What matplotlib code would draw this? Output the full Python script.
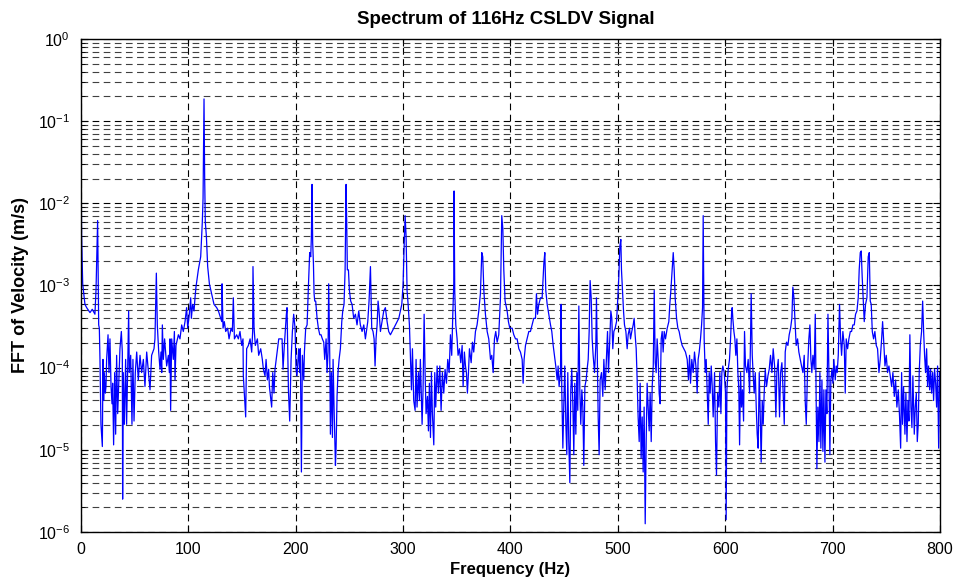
import numpy as np
import matplotlib
matplotlib.use('Agg')
import matplotlib.pyplot as plt
from matplotlib.ticker import LogLocator, MultipleLocator, NullFormatter

plt.rcParams['font.family'] = ['Liberation Sans', 'DejaVu Sans']
plt.rcParams['mathtext.fontset'] = 'custom'
plt.rcParams['mathtext.rm'] = 'Liberation Sans'

# spectrum: frequency (Hz) and log10 of |FFT| (m/s)
freq_a = [0, 0.6, 1.6, 3.7, 5.3, 8.4, 10.5, 13.0, 14.0, 15.5,
          16.5, 17.1, 17.7, 18.6, 19.9, 20.5, 21.1, 21.7, 22.7, 23.3,
          23.9, 25.2, 26.1, 27.0, 28.0, 28.9, 29.5, 30.4, 31.4, 32.3,
          33.2, 34.2, 36.3, 37.6, 38.5, 38.8, 39.4, 40.4, 41.6, 42.5,
          43.5, 44.4, 45.0, 46.3, 47.5, 48.4, 49.4, 50.6, 51.9, 53.4,
          55.0, 56.5, 58.1, 59.6, 61.2, 64.3, 65.8, 68.0, 68.9, 70.2,
          71.1, 72.4, 73.6, 74.5, 75.2, 75.8, 76.7, 77.9, 79.8, 81.4,
          82.3, 82.9, 83.5, 84.5, 86.0, 87.0, 87.6, 88.5, 90.7, 92.2,
          93.8, 95.3, 96.9, 98.4, 99.4, 100.9, 102.2, 102.8, 104.0, 105.3,
          106.2, 107.1, 109.3, 111.5, 113.0, 113.7, 114.6, 115.2, 115.8, 116.8,
          118.0, 119.6, 121.7, 123.9, 126.4, 128.0, 131.1, 131.4, 132.3, 133.5,
          134.8, 136.6, 137.9, 139.8, 141.0, 141.9, 142.9, 145.0, 146.6, 148.1,
          149.7, 150.9, 151.2, 153.4, 154.3, 155.9, 157.5, 159.0, 159.9, 160.2,
          161.2, 162.4, 164.3, 165.5, 167.4, 168.9, 169.9, 171.4, 172.4, 173.6,
          174.8, 175.5, 177.6, 178.6, 179.8, 180.7, 182.3, 184.2]
lvl_a = [-1.40, -2.40, -2.98, -3.23, -3.27, -3.33, -3.29, -3.35, -3.06, -2.21,
         -3.48, -3.52, -3.90, -4.69, -4.96, -3.90, -4.40, -4.06, -4.31, -4.23,
         -3.90, -3.60, -4.06, -3.65, -4.23, -4.44, -4.19, -4.94, -4.06, -4.81,
         -3.85, -4.56, -3.77, -3.56, -3.81, -5.60, -4.06, -4.69, -3.90, -4.69,
         -4.02, -3.31, -4.06, -3.85, -4.69, -3.90, -4.65, -4.06, -3.81, -4.15,
         -3.85, -4.06, -3.90, -4.23, -3.81, -4.27, -3.85, -3.77, -3.65, -2.85,
         -3.48, -3.81, -4.02, -3.81, -4.06, -3.48, -3.90, -3.65, -3.98, -3.85,
         -4.06, -3.65, -4.52, -3.65, -3.90, -3.56, -4.15, -3.73, -3.60, -3.65,
         -3.48, -3.56, -3.44, -3.27, -3.52, -3.35, -3.15, -3.40, -3.23, -3.31,
         -3.15, -3.02, -2.81, -2.65, -2.23, -1.94, -0.73, -1.69, -2.23, -2.40,
         -2.77, -2.98, -3.10, -3.23, -3.27, -3.31, -3.44, -2.98, -3.52, -3.44,
         -3.56, -3.52, -3.65, -3.52, -3.56, -3.15, -3.65, -3.60, -3.65, -3.56,
         -3.73, -3.65, -4.10, -4.60, -3.77, -3.73, -3.65, -3.81, -3.56, -2.77,
         -3.52, -3.73, -3.65, -3.85, -3.77, -3.90, -4.02, -4.10, -3.90, -4.15,
         -4.02, -4.23, -4.48, -4.06, -4.31, -4.02, -3.85, -3.65]

freq_b = [187.3, 188.2, 189.4, 191.3, 191.9, 193.2, 194.4, 195.7, 196.9, 198.1,
          199.4, 200.3, 201.2, 202.8, 203.7, 204.3, 205.3, 206.2, 207.5, 208.1,
          209.3, 210.6, 211.8, 213.0, 214.0, 214.6, 215.2, 215.8, 216.5, 217.1,
          217.7, 218.6, 219.9, 221.1, 222.4, 223.6, 224.8, 226.1, 227.0, 228.3,
          229.2, 230.1, 230.7, 231.7, 232.3, 233.2, 234.2, 234.8, 235.7, 237.0,
          237.6, 238.5, 239.4, 240.4, 241.6, 242.9, 243.8, 245.0, 246.0, 246.9,
          247.5, 248.1, 249.1, 250.0, 251.2, 252.5, 254.0, 255.6, 257.1, 258.7,
          260.2, 261.8, 263.4, 264.9, 265.8, 267.1, 268.3, 269.6, 270.8, 272.0,
          273.0, 273.9, 274.8, 275.8, 276.7, 277.6, 278.9, 280.4, 282.0, 283.5,
          285.1, 286.6, 288.2, 289.8, 291.3, 292.9, 294.4, 296.0, 297.5, 298.8,
          300.0, 300.9, 301.9, 302.8, 303.7, 304.7, 305.9, 306.8, 307.8, 308.7,
          309.9, 311.2, 312.1, 313.0, 314.3, 315.2, 316.1, 317.7, 318.6, 319.6,
          320.5, 321.4, 322.7, 323.6, 324.5, 325.5, 326.4, 327.3, 328.6, 329.5,
          330.4, 331.7, 332.9, 334.2, 335.4, 336.6, 337.9, 339.1, 340.4, 341.6,
          342.9, 344.1, 345.3, 346.3, 347.2, 347.5, 348.1, 349.1, 350.3, 351.2,
          352.5, 353.7, 355.0, 355.9, 357.1, 358.1, 359.0, 359.9, 360.9, 361.8,
          363.4, 364.6, 365.8, 367.4, 368.9, 370.5, 372.0, 373.3, 374.2, 375.2,
          376.7, 378.3, 379.8, 381.4, 382.6, 383.9, 385.1, 386.3, 387.6, 389.1,
          390.7, 391.9, 392.9, 393.8, 395.0, 396.9, 398.1, 399.4]
lvl_b = [-3.65, -4.02, -3.73, -3.35, -3.27, -4.27, -4.65, -3.90, -3.56, -3.35,
         -3.52, -4.02, -4.10, -3.77, -4.06, -3.77, -5.27, -3.85, -4.15, -3.81,
         -3.52, -3.48, -3.02, -2.60, -2.65, -2.40, -1.77, -2.48, -2.73, -3.10,
         -3.19, -3.19, -3.40, -3.52, -3.60, -3.60, -3.65, -3.69, -3.90, -3.65,
         -4.06, -3.81, -2.98, -3.85, -4.81, -4.06, -4.85, -3.90, -4.48, -5.19,
         -4.98, -4.35, -4.06, -3.90, -3.77, -3.44, -3.31, -3.23, -2.81, -1.77,
         -2.23, -2.81, -2.81, -3.06, -3.19, -3.23, -3.40, -3.35, -3.48, -3.31,
         -3.48, -3.56, -3.48, -3.65, -3.56, -3.44, -3.19, -2.77, -3.52, -3.56,
         -3.65, -3.98, -3.65, -3.48, -3.19, -3.31, -3.56, -3.44, -3.31, -3.27,
         -3.44, -3.56, -3.60, -3.56, -3.52, -3.48, -3.44, -3.40, -3.31, -3.23,
         -2.98, -2.56, -2.15, -2.40, -3.06, -3.23, -3.48, -3.85, -4.27, -3.77,
         -4.40, -4.52, -3.90, -4.48, -4.06, -4.40, -3.90, -4.69, -4.27, -3.35,
         -4.06, -4.56, -4.35, -4.77, -4.19, -4.85, -4.06, -4.56, -4.94, -4.06,
         -4.48, -3.98, -4.31, -3.98, -4.52, -4.06, -4.31, -4.02, -4.19, -3.90,
         -4.06, -3.60, -3.85, -3.35, -2.98, -1.85, -3.06, -3.48, -3.65, -3.85,
         -3.77, -3.94, -3.73, -4.23, -3.81, -3.98, -4.06, -4.31, -4.06, -3.77,
         -3.94, -3.69, -3.81, -3.56, -3.48, -3.31, -3.10, -2.60, -2.65, -3.06,
         -3.35, -3.56, -3.65, -3.90, -3.85, -4.06, -3.65, -3.56, -3.69, -3.60,
         -3.15, -2.15, -2.31, -2.81, -3.19, -3.31, -3.44, -3.52]

freq_c = [401.6, 403.1, 404.7, 406.2, 407.8, 409.3, 410.9, 411.8, 412.7, 414.0,
          415.5, 417.1, 418.6, 420.2, 421.7, 423.3, 424.2, 425.2, 426.4, 428.0,
          429.5, 431.1, 432.0, 432.9, 434.2, 435.7, 437.3, 438.5, 439.8, 441.0,
          442.2, 443.5, 444.4, 445.3, 446.6, 447.2, 447.8, 448.8, 449.7, 450.6,
          451.6, 452.5, 453.4, 454.3, 455.3, 456.2, 457.1, 458.1, 459.0, 459.9,
          460.9, 461.8, 462.7, 463.7, 464.6, 465.5, 466.5, 467.4, 468.3, 469.3,
          470.5, 471.4, 472.4, 473.3, 474.2, 475.2, 476.1, 477.0, 478.3, 479.5,
          480.1, 481.1, 481.7, 482.6, 483.5, 484.8, 486.0, 487.0, 488.2, 489.4,
          490.4, 491.3, 492.5, 493.5, 494.4, 495.3, 496.3, 497.5, 498.8, 500.0,
          500.9, 501.9, 502.8, 503.4, 504.3, 505.3, 506.2, 507.5, 508.7, 509.6,
          510.9, 511.8, 513.0, 514.3, 515.2, 516.1, 517.1, 518.0, 518.9, 519.9,
          520.8, 521.7, 522.7, 523.6, 524.5, 525.5, 526.4, 527.3, 528.3, 529.2,
          530.1, 531.1, 532.0, 533.0, 533.9, 534.8, 535.7, 536.6, 537.6, 538.5,
          539.4, 540.4, 541.3, 542.2, 543.2, 544.4, 546.0, 547.5, 548.4, 549.4,
          550.6, 551.6, 552.5, 553.4, 554.7, 555.9, 557.1, 558.4, 559.9, 561.5,
          563.0, 564.6, 565.8, 566.8, 567.7, 568.9, 570.2, 571.4, 572.7, 573.9,
          574.8, 575.8, 577.0, 578.0, 578.9, 579.5, 580.4, 581.4, 582.3, 583.2,
          584.2, 585.1, 586.0, 587.0, 587.9, 588.8, 590.1, 591.0, 591.9, 592.9,
          594.1, 595.0]
lvl_c = [-3.52, -3.60, -3.65, -3.65, -3.77, -3.81, -3.90, -4.19, -3.90, -3.73,
         -3.65, -3.56, -3.56, -3.48, -3.40, -3.40, -3.10, -3.35, -3.23, -3.15,
         -3.15, -2.73, -2.60, -3.06, -3.23, -3.35, -3.48, -3.56, -3.73, -3.85,
         -3.98, -4.15, -3.98, -4.23, -4.06, -3.23, -4.27, -4.98, -4.44, -3.98,
         -4.69, -5.06, -4.06, -4.90, -5.40, -4.27, -4.02, -4.44, -5.06, -4.19,
         -4.81, -4.06, -4.52, -3.25, -4.27, -4.69, -4.27, -4.48, -5.19, -4.23,
         -4.15, -4.02, -3.90, -3.56, -2.94, -3.15, -3.65, -3.85, -4.06, -3.73,
         -3.15, -4.06, -4.60, -5.06, -4.15, -4.06, -4.35, -3.90, -4.27, -3.90,
         -3.56, -4.06, -3.65, -3.31, -3.40, -3.77, -3.56, -3.52, -3.44, -3.15,
         -2.90, -2.52, -2.44, -2.81, -3.06, -3.31, -3.48, -3.56, -3.77, -3.60,
         -3.52, -3.65, -3.56, -3.48, -3.40, -3.60, -3.77, -4.15, -4.60, -4.90,
         -4.19, -5.10, -4.60, -5.27, -4.48, -5.90, -4.90, -4.19, -4.48, -4.77,
         -4.31, -4.90, -4.23, -3.98, -3.06, -3.94, -4.06, -3.65, -3.90, -4.31,
         -4.44, -3.65, -3.56, -3.81, -3.56, -3.65, -3.52, -3.44, -3.23, -3.06,
         -2.81, -2.60, -2.81, -3.15, -3.40, -3.52, -3.56, -3.65, -3.73, -3.77,
         -3.81, -3.90, -4.15, -3.85, -4.19, -3.90, -4.06, -3.81, -3.98, -4.31,
         -3.90, -3.81, -3.65, -3.48, -3.27, -2.15, -3.65, -4.06, -3.90, -4.27,
         -4.69, -4.06, -4.31, -3.98, -4.23, -4.60, -4.06, -4.90, -5.31, -4.31,
         -4.48, -4.06]

freq_d = [596.0, 596.9, 597.8, 599.1, 600.3, 600.9, 601.6, 602.8, 604.0, 605.0,
          605.9, 606.5, 607.1, 608.1, 609.0, 609.9, 610.9, 611.8, 612.7, 613.4,
          614.3, 615.2, 616.1, 617.1, 618.0, 618.9, 620.2, 621.4, 622.7, 623.6,
          624.2, 625.2, 626.1, 627.0, 628.0, 628.9, 629.8, 630.7, 631.7, 632.6,
          633.5, 634.5, 635.4, 636.3, 637.3, 638.5, 639.8, 641.0, 642.2, 643.5,
          644.7, 646.0, 647.2, 648.1, 649.4, 650.6, 651.6, 652.8, 654.0, 655.0,
          655.9, 657.1, 658.4, 659.6, 660.9, 662.1, 663.0, 664.0, 664.9, 666.1,
          667.4, 668.6, 669.9, 671.1, 672.4, 673.6, 674.5, 675.5, 676.7, 677.9,
          678.9, 679.8, 680.7, 681.7, 682.9, 683.9, 684.8, 685.4, 686.3, 687.3,
          688.2, 689.1, 690.1, 691.0, 691.9, 692.9, 693.8, 694.7, 695.7, 696.6,
          697.5, 698.4, 699.4, 700.3, 701.2, 702.5, 703.4, 704.3, 705.3, 706.5,
          707.5, 708.4, 709.6, 710.9, 711.8, 712.7, 714.0, 715.2, 716.5, 717.7,
          718.9, 720.2, 721.4, 722.7, 723.9, 724.8, 725.8, 726.7, 727.6, 728.6,
          729.5, 730.7, 732.0, 733.2, 734.2, 735.1, 736.0, 737.0, 738.2, 739.4,
          740.7, 741.9, 743.2, 744.4, 745.7, 746.6, 747.5, 748.8, 750.0, 751.2,
          752.5, 753.7, 755.0, 756.2, 757.5, 758.7, 759.9, 761.2, 762.4, 763.4,
          764.3, 765.2, 766.1, 767.4, 768.3, 769.3, 770.2, 771.1, 772.0, 773.0,
          773.9, 774.8, 776.1, 777.0, 778.0, 778.9, 779.8, 780.7, 781.7, 782.9,
          783.9, 784.8, 785.7, 786.6, 787.6, 788.5, 789.4, 790.4, 791.3, 792.2,
          793.2, 794.1, 795.0, 796.0, 796.9, 797.8, 798.8, 799.7, 800.0]
lvl_d = [-4.56, -4.06, -3.98, -4.06, -4.31, -5.85, -4.27, -4.02, -3.90, -3.65,
         -3.35, -3.27, -3.40, -3.56, -3.65, -3.85, -3.65, -4.06, -4.27, -4.94,
         -4.06, -4.48, -4.27, -4.65, -3.56, -3.98, -4.06, -3.90, -4.31, -3.65,
         -3.10, -3.85, -4.10, -4.31, -4.06, -4.48, -4.81, -4.98, -4.06, -4.56,
         -5.15, -4.40, -4.69, -4.31, -4.02, -4.23, -4.10, -4.02, -3.85, -4.06,
         -3.77, -3.98, -4.60, -4.06, -3.90, -4.60, -4.06, -3.94, -4.31, -4.69,
         -3.81, -3.69, -3.73, -3.60, -3.52, -3.40, -3.02, -3.15, -3.40, -3.73,
         -3.65, -3.81, -3.90, -3.98, -4.06, -3.85, -4.40, -4.69, -4.02, -3.65,
         -3.48, -3.90, -4.06, -3.85, -4.02, -3.35, -4.48, -5.23, -4.48, -4.90,
         -4.06, -4.98, -4.15, -5.02, -4.27, -5.15, -4.27, -4.56, -3.35, -4.06,
         -5.06, -4.15, -4.02, -4.19, -3.90, -4.15, -3.98, -4.06, -3.85, -3.23,
         -3.65, -3.85, -3.56, -3.73, -4.31, -3.65, -3.77, -3.65, -3.56, -3.56,
         -3.48, -3.48, -3.35, -3.31, -3.15, -2.81, -2.60, -2.58, -2.90, -3.19,
         -3.44, -3.23, -3.15, -2.65, -2.60, -3.19, -3.23, -3.56, -3.65, -3.56,
         -3.73, -3.77, -4.06, -3.90, -3.65, -3.44, -3.65, -3.98, -3.85, -4.06,
         -3.98, -4.10, -4.23, -4.06, -4.35, -4.15, -4.48, -4.27, -4.60, -4.98,
         -4.06, -4.69, -4.23, -4.81, -4.31, -4.90, -4.40, -4.65, -3.60, -4.48,
         -4.73, -4.10, -4.81, -4.48, -4.31, -4.90, -4.69, -4.06, -3.73, -3.56,
         -3.19, -3.56, -3.85, -4.06, -3.77, -4.23, -3.98, -4.27, -4.02, -4.31,
         -4.06, -4.40, -4.02, -4.19, -4.48, -3.98, -4.98, -4.06, -4.27]

freq = np.array(freq_a + freq_b + freq_c + freq_d)
amp = 10.0 ** np.array(lvl_a + lvl_b + lvl_c + lvl_d)

fig = plt.figure(figsize=(9.56, 5.86), dpi=100)
ax = fig.add_axes([0.0847, 0.0922, 0.8985, 0.8413])

ax.semilogy(freq, amp, color='#0000ff', lw=0.9)

ax.set_xlim(0, 800)
ax.set_ylim(1e-6, 1e0)
ax.xaxis.set_major_locator(MultipleLocator(100))
ax.yaxis.set_major_locator(LogLocator(base=10, numticks=10))
ax.yaxis.set_minor_locator(LogLocator(base=10, subs=np.arange(2, 10), numticks=20))
ax.yaxis.set_minor_formatter(NullFormatter())

# MATLAB-style dashed grid
ax.grid(True, which='major', axis='both', color='k', ls=(0, (6, 4)), lw=0.8)
ax.grid(True, which='minor', axis='y', color='0.25', ls=(0, (6, 4)), lw=0.8)

ax.tick_params(which='both', direction='in', top=True, right=True, labelsize=11.5)
ax.tick_params(which='major', length=5, width=0.8)
ax.tick_params(which='minor', length=3, width=0.6)
ax.tick_params(axis='x', pad=7)
ax.tick_params(axis='y', pad=8)
for s in ax.spines.values():
    s.set_linewidth(1.0)

fig.text(0.529, 1 - 19 / 586, 'Spectrum of 116Hz CSLDV Signal', fontsize=13.5,
         fontweight='bold', ha='center', va='center')
ax.set_xlabel('Frequency (Hz)', fontsize=12, fontweight='bold', labelpad=4)
ax.set_ylabel('FFT of Velocity (m/s)', fontsize=13, fontweight='bold', labelpad=6)

fig.savefig('out.png', dpi=100)
